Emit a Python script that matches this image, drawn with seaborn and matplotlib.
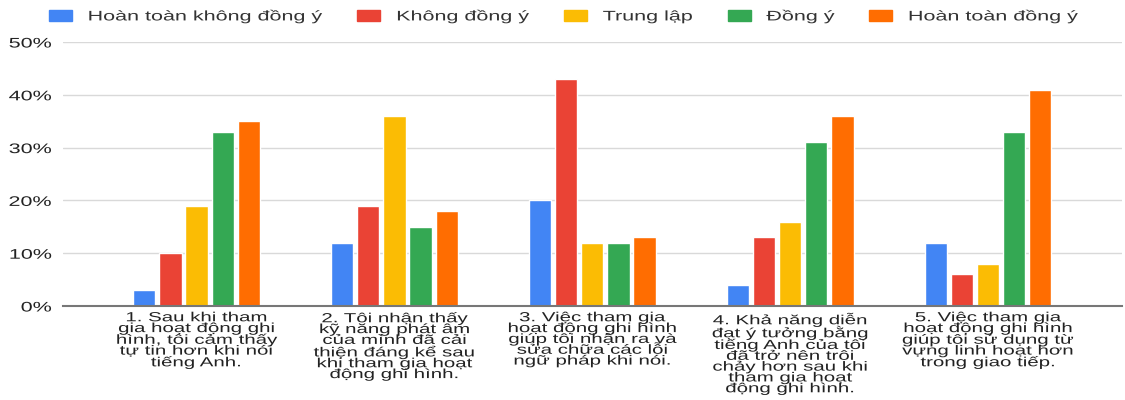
import numpy as np
import matplotlib
matplotlib.use("Agg")
import matplotlib.pyplot as plt
import matplotlib.ticker as mticker
from matplotlib.patheffects import AbstractPathEffect
from matplotlib.transforms import Affine2D
import pandas as pd
import seaborn as sns

# Data (percent)
questions = [
    "1. Sau khi tham\ngia hoạt động ghi\nhình, tôi cảm thấy\ntự tin hơn khi nói\ntiếng Anh.",
    "2. Tôi nhận thấy\nkỹ năng phát âm\ncủa mình đã cải\nthiện đáng kể sau\nkhi tham gia hoạt\nđộng ghi hình.",
    "3. Việc tham gia\nhoạt động ghi hình\ngiúp tôi nhận ra và\nsửa chữa các lỗi\nngữ pháp khi nói.",
    "4. Khả năng diễn\nđạt ý tưởng bằng\ntiếng Anh của tôi\nđã trở nên trôi\nchảy hơn sau khi\ntham gia hoạt\nđộng ghi hình.",
    "5. Việc tham gia\nhoạt động ghi hình\ngiúp tôi sử dụng từ\nvựng linh hoạt hơn\ntrong giao tiếp.",
]
responses = ["Hoàn toàn không đồng ý", "Không đồng ý", "Trung lập", "Đồng ý", "Hoàn toàn đồng ý"]
strongly_disagree = [3, 12, 20, 4, 12]
disagree = [10, 19, 43, 13, 6]
neutral = [19, 36, 12, 16, 8]
agree = [33, 15, 12, 31, 33]
strongly_agree = [35, 18, 13, 36, 41]
colors = ["#4285F4", "#EA4335", "#FBBC04", "#34A853", "#FF6D01"]

# the reference text looks stretched sideways, so stretch the glyphs too
STRETCH = 1.55


class Stretch(AbstractPathEffect):
    # widen a drawn path around the anchor of a text (or around x=0)
    def __init__(self, sx, text=None):
        super().__init__()
        self.sx = sx
        self.text = text

    def draw_path(self, renderer, gc, tpath, affine, rgbFace=None):
        x0 = 0.0
        if self.text is not None:
            x0 = self.text.get_transform().transform(self.text.get_unitless_position())[0]
        affine = affine + Affine2D().translate(-x0, 0).scale(self.sx, 1).translate(x0, 0)
        renderer.draw_path(gc, tpath, affine, rgbFace)


series = [strongly_disagree, disagree, neutral, agree, strongly_agree]
rows = []
for resp, vals in zip(responses, series):
    for q, v in zip(questions, vals):
        rows.append({"question": q, "response": resp, "value": v})
df = pd.DataFrame(rows)

sns.set_style("white")
plt.rcParams["font.family"] = ["Liberation Sans", "DejaVu Sans"]

fig = plt.figure(figsize=(11.25, 4), dpi=100)
ax = fig.add_axes([0.056, 0.235, 0.941, 0.66])

sns.barplot(data=df, x="question", y="value", hue="response",
            order=questions, hue_order=responses, palette=colors,
            width=0.66, gap=0.15, saturation=1, errorbar=None, ax=ax)

ax.set_ylim(0, 50)
ax.set_xlim(-0.675, 4.675)
ax.yaxis.set_major_locator(mticker.MultipleLocator(10))
ax.yaxis.set_major_formatter(mticker.FuncFormatter(lambda v, p: f"{int(v)}%"))
ax.grid(axis="y", color="#d9d9d9", linewidth=1)
ax.set_axisbelow(True)
for s in ["top", "right", "left"]:
    ax.spines[s].set_visible(False)
ax.spines["bottom"].set_color("#777777")
ax.spines["bottom"].set_linewidth(1.5)
ax.set_xlabel("")
ax.set_ylabel("")
ax.tick_params(axis="both", length=0)
ax.tick_params(axis="y", labelsize=10, labelcolor="#222222", pad=8)
ax.tick_params(axis="x", pad=4.5)

for lab in ax.get_yticklabels():
    lab.set_path_effects([Stretch(STRETCH, lab)])
for lab in ax.get_xticklabels():
    lab.set_fontsize(9.5)
    lab.set_linespacing(0.87)
    lab.set_color("#222222")
    lab.set_ha("center")
    lab.set_path_effects([Stretch(STRETCH, lab)])

ax.get_legend().remove()
handles = [plt.Rectangle((0, 0), 1, 1, color=c) for c in colors]
leg = fig.legend(handles, responses, loc="center left", bbox_to_anchor=(0.028, 0.96),
                 ncol=5, frameon=False, borderpad=0, borderaxespad=0,
                 handlelength=1.07, handleheight=0.86,
                 handletextpad=0.73, columnspacing=1.6,
                 prop={"family": "Liberation Sans", "size": 10})
for t in leg.get_texts():
    t.set_color("#333333")
    t.set_path_effects([Stretch(STRETCH)])
for h in leg.legend_handles:
    h.set_path_effects([Stretch(STRETCH)])

fig.savefig("out.png", dpi=100)
